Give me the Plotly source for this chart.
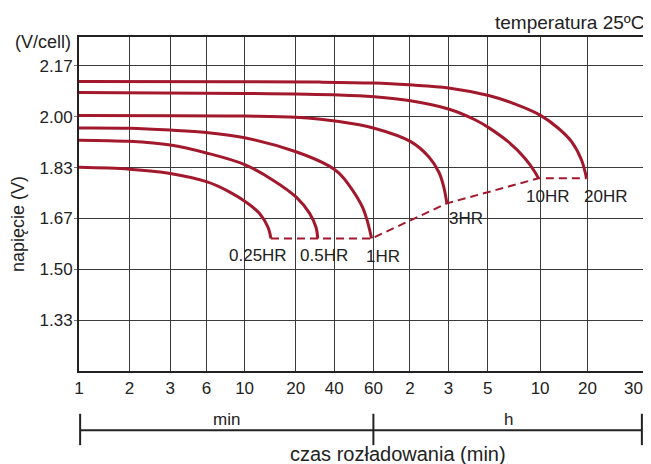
import numpy as np
import plotly.graph_objects as go

# ---------------- data ----------------
# x tick values (minutes) and their labels
tick_minutes = [1, 2, 3, 6, 10, 20, 40, 60, 120, 180, 300, 600, 1200, 1800]
tick_labels = ["1", "2", "3", "6", "10", "20", "40", "60", "2", "3", "5", "10", "20", "30"]

# y ticks (V/cell)
y_tick_vals = [2.1667, 2.0, 1.8333, 1.6667, 1.5, 1.3333]
y_tick_text = ["2.17", "2.00", "1.83", "1.67", "1.50", "1.33"]

# discharge curves: time (min) and voltage (V/cell)
names = ["0.25HR", "0.5HR", "1HR", "3HR", "10HR", "20HR"]

t_025 = [1, 2, 3, 6, 8.2, 10.2, 12.25, 13.7, 14.3]
v_025 = [1.834, 1.828, 1.814, 1.787, 1.753, 1.720, 1.683, 1.639, 1.601]

t_05 = [1, 2, 3, 6, 10, 14.7, 20.1, 25.6, 28.8, 29.7]
v_05 = [1.923, 1.919, 1.907, 1.881, 1.843, 1.792, 1.737, 1.684, 1.638, 1.601]

t_1 = [1, 2, 3, 6, 10, 20.1, 36.6, 42, 46.6, 53.5, 56.2, 58.9]
v_1 = [1.963, 1.962, 1.956, 1.948, 1.931, 1.885, 1.838, 1.815, 1.776, 1.705, 1.661, 1.601]

t_3 = [1, 10, 20.1, 42, 61, 121, 146.5, 162.7, 171, 177]
v_3 = [2.004, 2.002, 1.998, 1.984, 1.962, 1.918, 1.868, 1.818, 1.772, 1.716]

t_10 = [1, 10, 42, 61, 120.5, 180, 256, 304, 395, 492, 561, 587]
v_10 = [2.079, 2.076, 2.071, 2.065, 2.052, 2.025, 1.989, 1.964, 1.917, 1.863, 1.818, 1.798]

t_20 = [1, 10, 30.6, 60, 118, 180, 304, 432, 600, 783, 950, 1099, 1183]
v_20 = [2.115, 2.114, 2.113, 2.110, 2.104, 2.094, 2.069, 2.041, 2.005, 1.962, 1.918, 1.858, 1.798]

curves_t = [t_025, t_05, t_1, t_3, t_10, t_20]
curves_v = [v_025, v_05, v_1, v_3, v_10, v_20]

# ---------------- custom (hand drawn, roughly logarithmic) time scale ----------------
scale_pos = [0, 50.6, 91.6, 128, 166.3, 217.6, 256.3, 295.6, 332.3, 371, 410.3, 463, 510.6, 566.3]


def xs(minutes):
    return np.interp(np.log10(np.asarray(minutes, dtype=float)),
                     np.log10(tick_minutes), scale_pos)


RED = "#A2192D"
TXT = "#222222"
FONT = "Liberation Sans, Arial, sans-serif"

fig = go.Figure()

# cut-off (end voltage) dashed line joining curve ends
end_t = [t[-1] for t in curves_t]
end_v = [v[-1] for v in curves_v]
fig.add_trace(go.Scatter(x=xs(end_t), y=end_v, mode="lines",
                         line=dict(color=RED, width=2, dash="8px,5px"),
                         hoverinfo="skip", showlegend=False))

for nm, t, v in zip(names, curves_t, curves_v):
    fig.add_trace(go.Scatter(x=xs(t), y=v, mode="lines", name=nm,
                             line=dict(color=RED, width=3, shape="spline", smoothing=1.0),
                             showlegend=False))

# curve labels (offsets relative to the curve end)
label_dx = [-13, 6, 11, 19, 9, 19]
label_dy = [-17, -17, -18, -15, -18, -18]
for nm, t, v, dx, dy in zip(names, end_t, end_v, label_dx, label_dy):
    fig.add_annotation(x=float(xs([t])[0]), y=v, text=nm, showarrow=False,
                       xshift=dx, yshift=dy, font=dict(size=17, color=TXT, family=FONT))

# last x tick label sits inside the right edge (drawn as annotation so it is not cut)
fig.add_annotation(xref="paper", yref="paper", x=1, y=0, text=tick_labels[-1],
                   xanchor="right", yanchor="middle", xshift=2, yshift=-17.6,
                   showarrow=False, font=dict(size=17, color=TXT, family=FONT))

# titles and side texts
fig.add_annotation(xref="paper", yref="paper", x=1, y=1, text="temperatura 25ºC",
                   xanchor="right", yanchor="middle", xshift=4, yshift=15,
                   showarrow=False, font=dict(size=19, color=TXT, family=FONT))
fig.add_annotation(xref="paper", yref="paper", x=0, y=1, text="(V/cell)",
                   xanchor="center", yanchor="middle", xshift=-36, yshift=-5,
                   showarrow=False, font=dict(size=18, color=TXT, family=FONT))
fig.add_annotation(xref="paper", yref="paper", x=0, y=0.44, text="napięcie (V)",
                   textangle=-90, xanchor="center", yanchor="middle", xshift=-61,
                   showarrow=False, font=dict(size=18, color=TXT, family=FONT))
fig.add_annotation(xref="paper", yref="paper", x=0.5654, y=0, text="czas rozładowania (min)",
                   xanchor="center", yanchor="middle", yshift=-83,
                   showarrow=False, font=dict(size=20, color=TXT, family=FONT))

# min / h bracket under the axis
x_split = float(xs([60])[0]) / scale_pos[-1]
for x0 in [0.002, x_split, 0.998]:
    fig.add_shape(type="line", xref="paper", yref="paper", x0=x0, x1=x0,
                  y0=-0.128, y1=-0.222, line=dict(color=TXT, width=2))
fig.add_shape(type="line", xref="paper", yref="paper", x0=0.002, x1=0.998,
              y0=-0.1777, y1=-0.1777, line=dict(color=TXT, width=2))
fig.add_annotation(xref="paper", yref="paper", x=x_split / 2, y=-0.1777, text="min",
                   xanchor="center", yanchor="bottom", yshift=-1, showarrow=False,
                   font=dict(size=17, color=TXT, family=FONT))
fig.add_annotation(xref="paper", yref="paper", x=(x_split + 1) / 2, y=-0.1777, text="h",
                   xanchor="center", yanchor="bottom", yshift=-1, showarrow=False,
                   font=dict(size=17, color=TXT, family=FONT))

fig.update_xaxes(range=[scale_pos[0], scale_pos[-1]], tickmode="array",
                 tickvals=xs(tick_minutes), ticktext=tick_labels[:-1] + [""],
                 showgrid=True, gridcolor="#3a3a3a", gridwidth=1, zeroline=False,
                 showline=True, linecolor="#222222", linewidth=2, mirror=True,
                 ticks="", ticklabelstandoff=1,
                 tickfont=dict(size=17, color=TXT, family=FONT))
fig.update_yaxes(range=[1.1672, 2.2607], tickmode="array",
                 tickvals=y_tick_vals, ticktext=y_tick_text,
                 showgrid=True, gridcolor="#3a3a3a", gridwidth=1, zeroline=False,
                 showline=True, linecolor="#222222", linewidth=2, mirror=True,
                 ticks="outside", ticklen=3, tickcolor="#777777", ticklabelstandoff=-2,
                 tickfont=dict(size=17, color=TXT, family=FONT))

# page body has an 8px default margin: size the figure so that it fills the window
fig.update_layout(width=643, height=456, margin=dict(l=71, r=6, t=29, b=93),
                  plot_bgcolor="white", paper_bgcolor="white", showlegend=False)

fig.write_html("out.html")
